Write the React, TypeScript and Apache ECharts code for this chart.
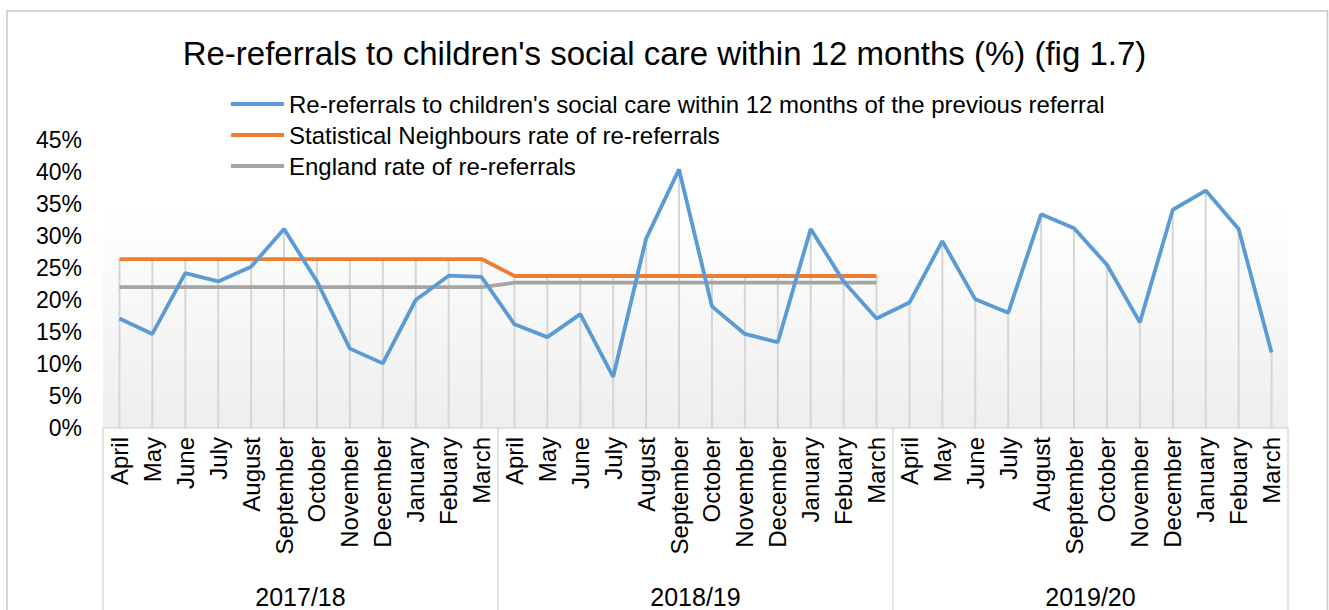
import React, { useEffect, useRef } from "react";
import * as echarts from "echarts";

const months = ["April", "May", "June", "July", "August", "September", "October", "November", "December", "January", "Febuary", "March"];
const years = ["2017/18", "2018/19", "2019/20"];
const categories = [...months, ...months, ...months];
const yTicks = [0, 5, 10, 15, 20, 25, 30, 35, 40, 45];

const rereferrals = [
  17.1, 14.7, 24.2, 22.9, 25.2, 31.1, 22.9, 12.4, 10.1, 20.0, 23.8, 23.6,
  16.2, 14.2, 17.8, 8.0, 29.6, 40.4, 19.0, 14.7, 13.4, 31.1, 22.9, 17.1,
  19.6, 29.2, 20.1, 18.0, 33.4, 31.2, 25.5, 16.5, 34.1, 37.1, 31.1, 11.8,
];
const statNeighbours = [
  26.4, 26.4, 26.4, 26.4, 26.4, 26.4, 26.4, 26.4, 26.4, 26.4, 26.4, 26.4,
  23.75, 23.75, 23.75, 23.75, 23.75, 23.75, 23.75, 23.75, 23.75, 23.75, 23.75, 23.75,
  null, null, null, null, null, null, null, null, null, null, null, null,
];
const england = [
  22.0, 22.0, 22.0, 22.0, 22.0, 22.0, 22.0, 22.0, 22.0, 22.0, 22.0, 22.0,
  22.7, 22.7, 22.7, 22.7, 22.7, 22.7, 22.7, 22.7, 22.7, 22.7, 22.7, 22.7,
  null, null, null, null, null, null, null, null, null, null, null, null,
];

const seriesNames = [
  "Re-referrals to children's social care within 12 months of the previous referral",
  "Statistical Neighbours rate of re-referrals",
  "England rate of re-referrals",
];

const FONT = "'Liberation Sans', Arial, sans-serif";

export default function App() {
  const ref = useRef<HTMLDivElement>(null);
  useEffect(() => {
    if (!ref.current) return;
    const chart = echarts.init(ref.current, undefined, { renderer: "svg" });
    const dropValues = rereferrals.map((v, i) =>
      Math.max(v, statNeighbours[i] ?? -Infinity, england[i] ?? -Infinity)
    );
    chart.setOption({
      animation: false,
      backgroundColor: "#ffffff",
      textStyle: { fontFamily: FONT },
      title: {
        text: "Re-referrals to children's social care within 12 months (%) (fig 1.7)",
        left: "center",
        top: 37,
        padding: 0,
        textStyle: { fontFamily: FONT, fontSize: 33, fontWeight: "normal", color: "#000" },
      },
      legend: {
        orient: "vertical",
        left: 231,
        top: 92,
        padding: 0,
        itemGap: 7,
        itemWidth: 53,
        itemHeight: 4,
        icon: "rect",
        data: seriesNames,
        textStyle: { fontFamily: FONT, fontSize: 24, color: "#000" },
      },
      graphic: [
        {
          type: "rect",
          shape: { x: 7, y: 11, width: 1320.5, height: 640 },
          style: { fill: "none", stroke: "#c8c8c8", lineWidth: 1.5 },
          silent: true,
        },
      ],
      grid: {
        left: 103,
        right: 41,
        top: 140,
        bottom: 182,
        show: true,
        borderWidth: 0,
        backgroundColor: new echarts.graphic.LinearGradient(0, 0, 0, 1, [
          { offset: 0, color: "#ffffff" },
          { offset: 0.23, color: "#ffffff" },
          { offset: 1, color: "#eeeeee" },
        ]),
      },
      xAxis: [
        {
          type: "category",
          data: categories,
          boundaryGap: true,
          axisLine: { show: true, lineStyle: { color: "#d9d9d9", width: 1.5 } },
          axisTick: { show: false },
          axisLabel: {
            interval: 0,
            rotate: 90,
            margin: 9,
            fontFamily: FONT,
            fontSize: 24,
            color: "#000",
          },
          splitLine: { show: false },
        },
        {
          type: "category",
          data: years,
          position: "bottom",
          offset: 0,
          boundaryGap: true,
          axisLine: { show: false },
          axisTick: {
            show: true,
            interval: 0,
            length: 190,
            lineStyle: { color: "#d9d9d9", width: 1.5 },
          },
          axisLabel: {
            interval: 0,
            margin: 156,
            fontFamily: FONT,
            fontSize: 25,
            color: "#000",
          },
        },
      ],
      yAxis: {
        type: "value",
        min: yTicks[0],
        max: yTicks[yTicks.length - 1],
        interval: 5,
        axisLine: { show: false },
        axisTick: { show: false },
        splitLine: { show: false },
        axisLabel: {
          formatter: "{value}%",
          margin: 21,
          fontFamily: FONT,
          fontSize: 23,
          color: "#000",
        },
      },
      series: [
        {
          name: "drop",
          type: "bar",
          xAxisIndex: 0,
          data: dropValues,
          barWidth: 2,
          itemStyle: { color: "#d6d6d6" },
          silent: true,
          z: 1,
        },
        {
          name: seriesNames[0],
          type: "line",
          xAxisIndex: 0,
          data: rereferrals,
          symbol: "none",
          lineStyle: { color: "#5B9BD5", width: 3.8 },
          itemStyle: { color: "#5B9BD5" },
          z: 4,
        },
        {
          name: seriesNames[1],
          type: "line",
          xAxisIndex: 0,
          data: statNeighbours,
          symbol: "none",
          lineStyle: { color: "#ED7D31", width: 3.8 },
          itemStyle: { color: "#ED7D31" },
          z: 3,
        },
        {
          name: seriesNames[2],
          type: "line",
          xAxisIndex: 0,
          data: england,
          symbol: "none",
          lineStyle: { color: "#A5A5A5", width: 3.8 },
          itemStyle: { color: "#A5A5A5" },
          z: 2,
        },
      ],
    });
    return () => chart.dispose();
  }, []);
  return (
    <div
      ref={ref}
      style={{ position: "absolute", left: 0, top: 0, width: 1329, height: 610 }}
    />
  );
}
